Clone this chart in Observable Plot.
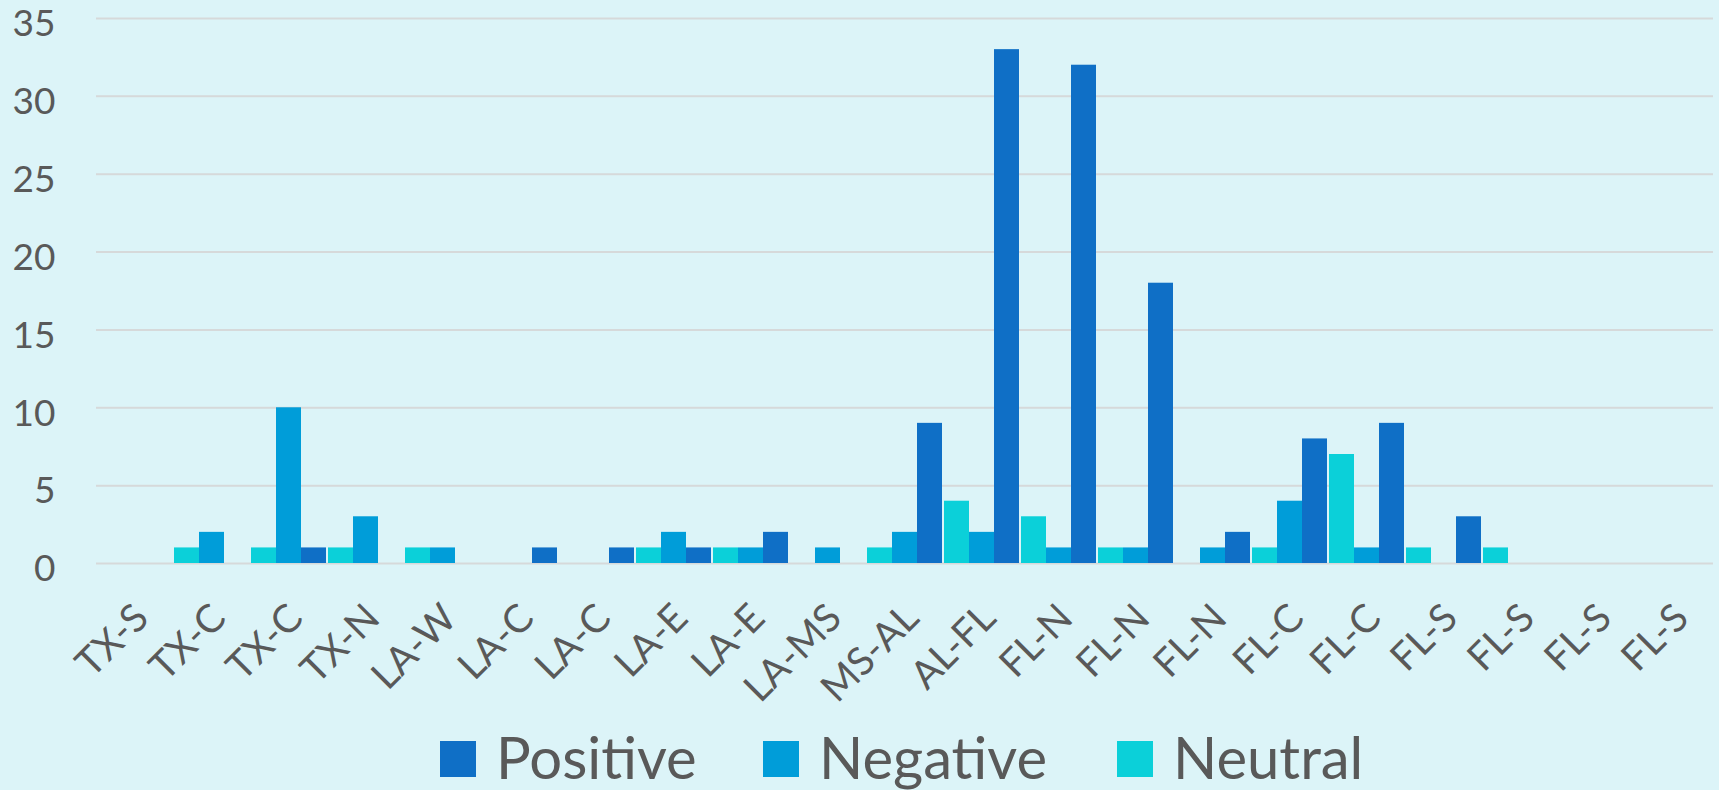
<!DOCTYPE html>
<html><head><meta charset="utf-8">
<script src="https://cdn.jsdelivr.net/npm/d3@7"></script>
<script src="https://cdn.jsdelivr.net/npm/@observablehq/plot@0.6"></script>
<style>
html,body{margin:0;padding:0;background:#DCF4F8;}
#chart{width:1719px;height:790px;position:relative;overflow:hidden;background:#DCF4F8;font-family:Lato,sans-serif;color:#595959;}
#legend{position:absolute;left:0;top:720px;width:1719px;height:70px;}
.item{position:absolute;top:0;height:70px;display:flex;align-items:flex-start;}
.sw{width:36px;height:36px;margin-top:21px;margin-right:20px;}
.lab{font-size:58px;line-height:58px;margin-top:8px;white-space:nowrap;}
</style></head><body><div id="chart"></div>
<script>
const categories = ["TX-S","TX-C","TX-C","TX-N","LA-W","LA-C","LA-C","LA-E","LA-E","LA-MS","MS-AL","AL-FL","FL-N","FL-N","FL-N","FL-C","FL-C","FL-S","FL-S","FL-S","FL-S"];
const series = ["Positive","Negative","Neutral"];
const barOrder = ["Neutral","Negative","Positive"];
const positive = [0,0,1,0,0,1,1,1,2,0,9,33,32,18,2,8,9,3,0,0,0];
const negative = [0,2,10,3,1,0,0,2,1,1,2,2,1,1,1,4,1,0,0,0,0];
const neutral  = [0,1,1,1,1,0,0,1,1,0,1,4,3,1,0,1,7,1,1,0,0];
const colors = ["#0F6FC6","#009DD9","#0BD0D9"];
const yTicks = [0,5,10,15,20,25,30,35];

const values = {Positive: positive, Negative: negative, Neutral: neutral};
const rows = [];
categories.forEach((c, i) => {
  series.forEach(s => rows.push({i, series: s, value: values[s][i]}));
});

const chart = Plot.plot({
  width: 1719, height: 720,
  marginLeft: 93, marginRight: 3, marginTop: 18, marginBottom: 157,
  style: {background: "transparent", fontFamily: "Lato, sans-serif", color: "#595959"},
  fx: {domain: d3.range(categories.length), padding: 0, label: null},
  x: {domain: barOrder, padding: 0, axis: null},
  y: {domain: [0, 35], label: null},
  color: {domain: series, range: colors},
  marks: [
    Plot.gridY(yTicks, {stroke: "#D6D9DA", strokeOpacity: 1, strokeWidth: 2}),
    Plot.axisY(yTicks, {tickSize: 0, tickPadding: 41, fontSize: 37, label: null, dy: 6}),
    Plot.barY(rows, {fx: "i", x: "series", y: "value", fill: "series"}),
    Plot.axisFx({anchor: "bottom", tickRotate: -45, fontSize: 39, tickSize: 0, tickPadding: 48, dx: 7, tickFormat: i => categories[i], label: null})
  ]
});
const root = document.getElementById("chart");
root.appendChild(chart);

const legend = document.createElement("div");
legend.id = "legend";
const lefts = [440, 763, 1117];
series.forEach((s, k) => {
  const it = document.createElement("div");
  it.className = "item";
  it.style.left = lefts[k] + "px";
  const sw = document.createElement("div");
  sw.className = "sw";
  sw.style.background = colors[k];
  const lab = document.createElement("div");
  lab.className = "lab";
  lab.textContent = s;
  it.appendChild(sw); it.appendChild(lab);
  legend.appendChild(it);
});
root.appendChild(legend);
</script></body></html>
